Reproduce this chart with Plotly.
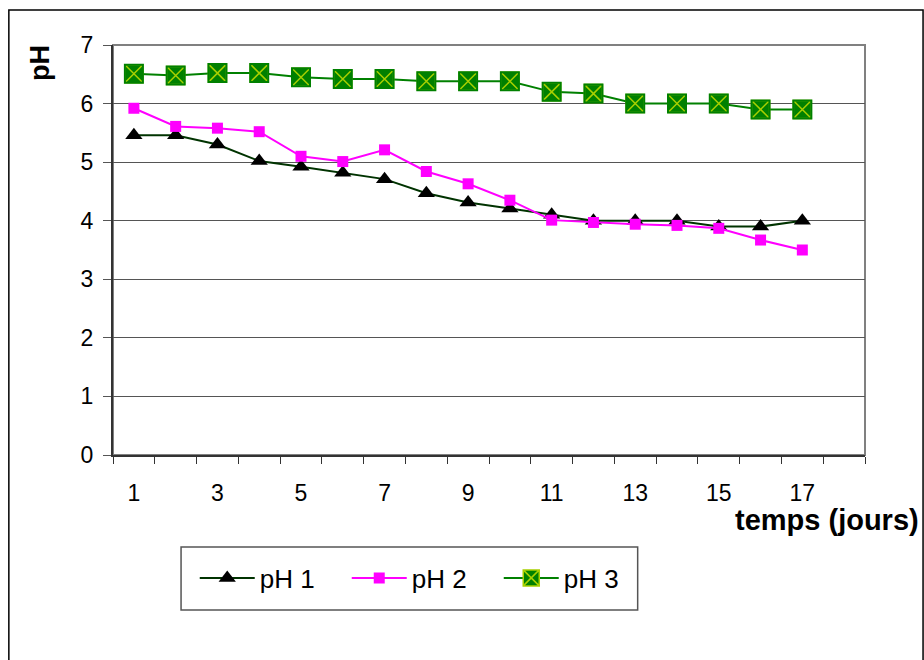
import numpy as np
import plotly.graph_objects as go

# Suivi du pH au cours du temps (jours 1 à 17)
jours = list(range(1, 18))
ph1 = [5.46, 5.46, 5.30, 5.02, 4.92, 4.82, 4.71, 4.47, 4.31, 4.21, 4.10, 4.00, 4.00, 4.00, 3.90, 3.90, 4.00]
ph2 = [5.92, 5.61, 5.58, 5.52, 5.10, 5.01, 5.21, 4.84, 4.63, 4.35, 4.01, 3.97, 3.94, 3.92, 3.87, 3.67, 3.50]
ph3 = [6.51, 6.48, 6.52, 6.52, 6.45, 6.42, 6.42, 6.38, 6.38, 6.38, 6.20, 6.17, 6.00, 6.00, 6.00, 5.90, 5.90]

n_categories = 18
x_ticklabels = ["1", "3", "5", "7", "9", "11", "13", "15", "17"]
y_ticks = list(range(0, 8))

FONT = "Liberation Sans, Arial, sans-serif"

fig = go.Figure()

fig.add_trace(go.Scatter(
    x=jours, y=ph1, name="pH 1", mode="lines+markers",
    line=dict(color="#003300", width=2),
    marker=dict(symbol="triangle-up", size=15, color="black"),
))
fig.add_trace(go.Scatter(
    x=jours, y=ph2, name="pH 2", mode="lines+markers",
    line=dict(color="#FF00FF", width=2),
    marker=dict(symbol="square", size=11, color="#FF00FF"),
))
fig.add_trace(go.Scatter(
    x=jours, y=ph3, name="pH 3", mode="lines+markers",
    line=dict(color="#008000", width=2),
    marker=dict(symbol="square-x", size=18, color="#008000",
                line=dict(color="#A8D000", width=1.5)),
))
# green outline over the square markers
fig.add_trace(go.Scatter(
    x=jours, y=ph3, mode="markers", showlegend=False, hoverinfo="skip",
    marker=dict(symbol="square-open", size=18, color="#008000",
                line=dict(color="#008000", width=2)),
))

boundaries = list(np.arange(0.5, n_categories + 1, 1.0))

fig.update_xaxes(
    range=[0.5, n_categories + 0.5],
    tickmode="array",
    tickvals=[int(t) for t in x_ticklabels],
    ticktext=x_ticklabels,
    ticks="",
    ticklabelstandoff=16,
    showgrid=False,
    zeroline=False,
    showline=True, linecolor="#333333", linewidth=2,
    minor=dict(tickmode="array", tickvals=boundaries, ticks="outside",
               ticklen=7, tickcolor="#333333", tickwidth=1, showgrid=False),
    tickfont=dict(family=FONT, size=23, color="black"),
)
fig.update_yaxes(
    range=[0, 7],
    tickmode="array", tickvals=y_ticks,
    ticks="outside", ticklen=8, tickcolor="#555555",
    ticklabelstandoff=5,
    showgrid=True, gridcolor="#555555", gridwidth=1,
    zeroline=False,
    showline=True, linecolor="#333333", linewidth=2,
    tickfont=dict(family=FONT, size=23, color="black"),
)

fig.update_layout(
    width=924, height=660,
    margin=dict(l=113, r=59, t=45, b=205),
    paper_bgcolor="white", plot_bgcolor="white",
    font=dict(family=FONT, color="black"),
    showlegend=True,
    legend=dict(
        orientation="h", x=0.1087, y=-0.30, xanchor="left", yanchor="middle",
        font=dict(family=FONT, size=26, color="black"),
        bgcolor="rgba(0,0,0,0)", borderwidth=0,
        itemwidth=55, entrywidth=82,
    ),
    shapes=[
        # outer frame
        dict(type="rect", xref="paper", yref="paper", x0=-0.1385, x1=1.0772,
             y0=-0.56, y1=1.0854, line=dict(color="black", width=1.5),
             fillcolor="rgba(0,0,0,0)", layer="below"),
        # plot-area frame (top and right sides)
        dict(type="rect", xref="paper", yref="paper", x0=0, x1=1, y0=0, y1=1,
             line=dict(color="#808080", width=2), layer="below"),
        # legend frame
        dict(type="rect", xref="paper", yref="paper", x0=0.0905, x1=0.6977,
             y0=-0.378, y1=-0.2244, line=dict(color="#555555", width=1.5),
             fillcolor="rgba(0,0,0,0)"),
    ],
    annotations=[
        dict(text="<b>pH</b>", xref="paper", yref="paper", x=-0.0972, y=0.956,
             textangle=-90, showarrow=False, xanchor="center", yanchor="middle",
             font=dict(family=FONT, size=27, color="black")),
        dict(text="<b>temps (jours)</b>", xref="paper", yref="paper",
             x=1.0746, y=-0.1585, showarrow=False, xanchor="right", yanchor="middle",
             font=dict(family=FONT, size=29, color="black")),
    ],
)

fig.write_html("out.html")
